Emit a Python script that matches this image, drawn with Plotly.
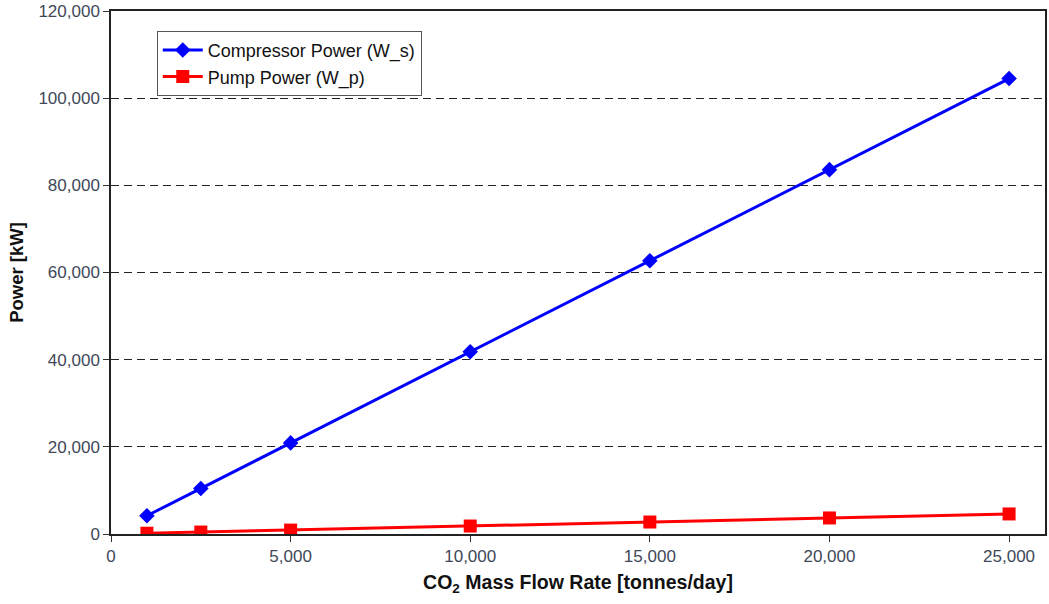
import plotly.graph_objects as go

# CO2 mass flow rate (tonnes/day)
flow_rate = [1000, 2500, 5000, 10000, 15000, 20000, 25000]
# Compressor and pump power (kW)
compressor_power = [4180, 10450, 20900, 41800, 62700, 83600, 104500]
pump_power = [180, 450, 900, 1830, 2750, 3680, 4600]

x_ticks = [0, 5000, 10000, 15000, 20000, 25000]
y_ticks = [0, 20000, 40000, 60000, 80000, 100000, 120000]

FONT = "Liberation Sans, Arial, sans-serif"
TICK_COLOR = "#404858"

fig = go.Figure()
fig.add_trace(go.Scatter(
    x=flow_rate, y=compressor_power, mode="lines+markers",
    name="Compressor Power (W_s)",
    line=dict(color="#0000FF", width=3),
    marker=dict(symbol="diamond", size=12, color="#0000FF"),
))
fig.add_trace(go.Scatter(
    x=flow_rate, y=pump_power, mode="lines+markers",
    name="Pump Power (W_p)",
    line=dict(color="#FF0000", width=3),
    marker=dict(symbol="square", size=13, color="#FF0000"),
))

fig.update_layout(
    width=1049, height=604,
    margin=dict(l=111, r=2, t=11, b=70),
    paper_bgcolor="white", plot_bgcolor="white",
    font=dict(family=FONT, size=17, color="#333"),
    legend=dict(
        x=0.049, y=0.962, xanchor="left", yanchor="top",
        bgcolor="white", bordercolor="#555", borderwidth=1,
        font=dict(family=FONT, size=18, color="#111"),
        itemwidth=40, tracegroupgap=0,
    ),
    showlegend=True,
)

fig.update_xaxes(
    range=[0, 26000], tickvals=x_ticks,
    tickformat=",d",
    ticks="outside", ticklen=6, tickcolor="#333",
    showline=True, linecolor="#222", linewidth=1.5, mirror=True,
    showgrid=False, zeroline=False,
    tickfont=dict(family=FONT, size=17, color=TICK_COLOR),
    title=dict(text="<b>CO<sub>2</sub> Mass Flow Rate [tonnes/day]</b>",
               font=dict(family=FONT, size=19.5, color="#111"), standoff=10),
)
fig.update_yaxes(
    range=[0, 120000], tickvals=y_ticks,
    tickformat=",d",
    ticks="outside", ticklen=6, tickcolor="#333",
    showline=True, linecolor="#222", linewidth=1.5, mirror=True,
    showgrid=True, gridcolor="#222", gridwidth=1, griddash="8px,5px",
    zeroline=False,
    tickfont=dict(family=FONT, size=17, color=TICK_COLOR),
    title=dict(text="<b>Power [kW]</b>",
               font=dict(family=FONT, size=18.5, color="#111"), standoff=10),
)

fig.write_html("out.html")
